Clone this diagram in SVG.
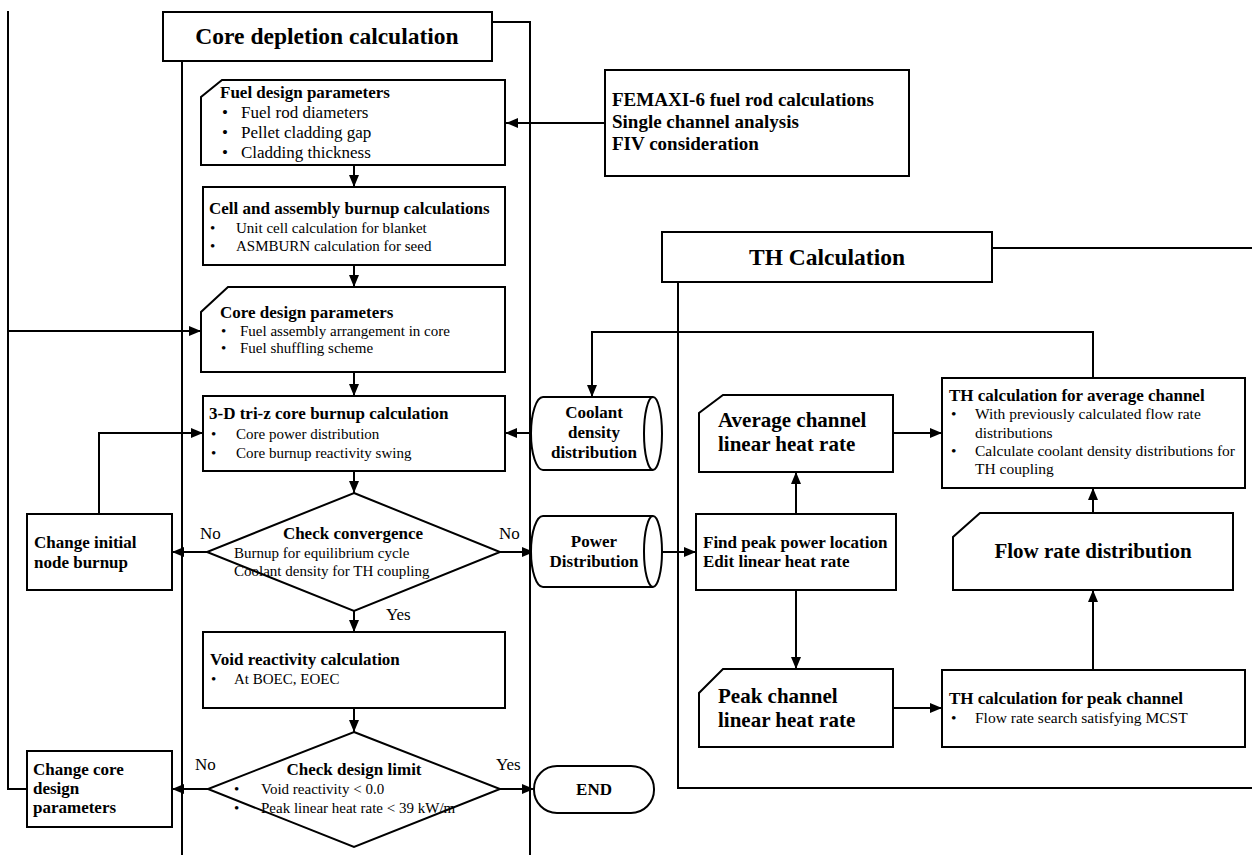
<svg xmlns="http://www.w3.org/2000/svg" width="1252" height="855" viewBox="0 0 1252 855">
<defs>
<marker id="arr" markerUnits="userSpaceOnUse" markerWidth="12" markerHeight="10" refX="12" refY="5" orient="auto">
<path d="M0,0 L12,5 L0,10 Z" fill="#000"/>
</marker>
<style>
.box{fill:#fff;stroke:#000;stroke-width:2}
.ln{fill:none;stroke:#000;stroke-width:2}
.con{fill:none;stroke:#000;stroke-width:2}
text{font-family:"Liberation Serif","Times New Roman",serif;fill:#000}
.b{font-weight:bold}
.h{font-size:23.5px;font-weight:bold}
.t17{font-size:17px}
.t15{font-size:15px}
.t155{font-size:15.5px}
.t19{font-size:19px}
.t21{font-size:21px}
.c{text-anchor:middle}
</style>
</defs>
<rect width="1252" height="855" fill="#fff"/>

<g id="lanes">
<g id="core-lane">
<path class="ln" d="M492,22 L530,22 L530,855"/>
<path class="ln" d="M182,61 L182,855"/>
<rect class="box" x="163" y="12" width="329" height="49"/>
<text class="h c" x="327" y="44">Core depletion calculation</text>
</g>
<g id="th-lane">
<path class="ln" d="M992,248 L1252,248"/>
<path class="ln" d="M678,282 L678,788 L1252,788"/>
<rect class="box" x="662" y="232" width="330" height="50"/>
<text class="h c" x="827" y="265">TH Calculation</text>
</g>
</g>

<g id="connectors">
<path class="con" d="M604,123 L506,123" marker-end="url(#arr)"/>
<path class="con" d="M354,165 L354,187" marker-end="url(#arr)"/>
<path class="con" d="M354,265 L354,287" marker-end="url(#arr)"/>
<path class="con" d="M8,11 L8,789 L27,789"/>
<path class="con" d="M8,331 L201,331" marker-end="url(#arr)"/>
<path class="con" d="M354,372 L354,396" marker-end="url(#arr)"/>
<path class="con" d="M99,514 L99,433 L203,433" marker-end="url(#arr)"/>
<path class="con" d="M534,433 L505,433" marker-end="url(#arr)"/>
<path class="con" d="M354,471 L354,493" marker-end="url(#arr)"/>
<path class="con" d="M207,552 L172,552" marker-end="url(#arr)"/>
<path class="con" d="M500,552 L534,552" marker-end="url(#arr)"/>
<path class="con" d="M354,611 L354,632" marker-end="url(#arr)"/>
<path class="con" d="M354,708 L354,732" marker-end="url(#arr)"/>
<path class="con" d="M208,789 L172,789" marker-end="url(#arr)"/>
<path class="con" d="M500,789 L534,789" marker-end="url(#arr)"/>
<path class="con" d="M662,552 L696,552" marker-end="url(#arr)"/>
<path class="con" d="M796,514 L796,472" marker-end="url(#arr)"/>
<path class="con" d="M796,590 L796,669" marker-end="url(#arr)"/>
<path class="con" d="M893,433 L942,433" marker-end="url(#arr)"/>
<path class="con" d="M893,708 L942,708" marker-end="url(#arr)"/>
<path class="con" d="M1093,670 L1093,590" marker-end="url(#arr)"/>
<path class="con" d="M1093,513 L1093,488" marker-end="url(#arr)"/>
<path class="con" d="M1093,378 L1093,332 L592,332 L592,397" marker-end="url(#arr)"/>
<text class="t17" x="200" y="539">No</text>
<text class="t17" x="499" y="539">No</text>
<text class="t17" x="386" y="620">Yes</text>
<text class="t17" x="195" y="770">No</text>
<text class="t17" x="496" y="770">Yes</text>
</g>

<g id="femaxi">
<rect class="box" x="605" y="70" width="304" height="106"/>
<text class="b t19" x="612" y="106">FEMAXI-6 fuel rod calculations</text>
<text class="b t19" x="612" y="128">Single channel analysis</text>
<text class="b t19" x="612" y="150">FIV consideration</text>
</g>

<g id="fuel-design">
<path class="box" d="M222,80 L505,80 L505,165 L201,165 L201,97 Z"/>
<text class="b t17" x="220" y="98">Fuel design parameters</text>
<text class="t17" x="222" y="118">•</text><text class="t17" x="241" y="118">Fuel rod diameters</text>
<text class="t17" x="222" y="138">•</text><text class="t17" x="241" y="138">Pellet cladding gap</text>
<text class="t17" x="222" y="158">•</text><text class="t17" x="241" y="158">Cladding thickness</text>
</g>

<g id="cell-assembly">
<rect class="box" x="203" y="187" width="302" height="78"/>
<text class="b t17" x="209" y="214">Cell and assembly burnup calculations</text>
<text class="t15" x="210" y="233">•</text><text class="t15" x="236" y="233">Unit cell calculation for blanket</text>
<text class="t15" x="210" y="251">•</text><text class="t15" x="236" y="251">ASMBURN calculation for seed</text>
</g>

<g id="core-design">
<path class="box" d="M228,287 L505,287 L505,372 L201,372 L201,312 Z"/>
<text class="b t17" x="220" y="318">Core design parameters</text>
<text class="t15" x="221" y="336">•</text><text class="t15" x="240" y="336">Fuel assembly arrangement in core</text>
<text class="t15" x="221" y="353">•</text><text class="t15" x="240" y="353">Fuel shuffling scheme</text>
</g>

<g id="tri-z">
<rect class="box" x="203" y="396" width="302" height="75"/>
<text class="b t17" x="209" y="419">3-D tri-z core burnup calculation</text>
<text class="t15" x="211" y="439">•</text><text class="t15" x="236" y="439">Core power distribution</text>
<text class="t15" x="211" y="458">•</text><text class="t15" x="236" y="458">Core burnup reactivity swing</text>
</g>

<g id="check-convergence">
<path class="box" d="M354,493 L500,552 L354,611 L207,552 Z"/>
<text class="b t17 c" x="353" y="539">Check convergence</text>
<text class="t15" x="234" y="558">Burnup for equilibrium cycle</text>
<text class="t15" x="234" y="576">Coolant density for TH coupling</text>
</g>

<g id="change-initial">
<rect class="box" x="27" y="514" width="145" height="76"/>
<text class="b t17" x="34" y="548">Change initial</text>
<text class="b t17" x="34" y="568">node burnup</text>
</g>

<g id="void-reactivity">
<rect class="box" x="203" y="632" width="302" height="76"/>
<text class="b t17" x="210" y="665">Void reactivity calculation</text>
<text class="t15" x="211" y="684">•</text><text class="t15" x="234" y="684">At BOEC, EOEC</text>
</g>

<g id="check-design">
<path class="box" d="M354,732 L500,789 L354,847 L208,789 Z"/>
<text class="b t17 c" x="354" y="775">Check design limit</text>
<text class="t15" x="234" y="794">•</text><text class="t15" x="261" y="794">Void reactivity &lt; 0.0</text>
<text class="t15" x="234" y="813">•</text><text class="t15" x="261" y="813">Peak linear heat rate &lt; 39 kW/m</text>
</g>

<g id="change-core">
<rect class="box" x="27" y="751" width="145" height="76"/>
<text class="b t17" x="33" y="775">Change core</text>
<text class="b t17" x="33" y="794">design</text>
<text class="b t17" x="33" y="813">parameters</text>
</g>

<g id="end">
<rect class="box" x="534" y="766" width="120" height="47" rx="23" ry="23"/>
<text class="b t17 c" x="594" y="795">END</text>
</g>

<g id="coolant-density">
<path class="box" d="M543,397 L653,397 A9,36.5 0 0 1 653,470 L543,470 A12,36.5 0 0 1 543,397 Z"/>
<path class="ln" d="M653,397 A9,36.5 0 0 0 653,470"/>
<text class="b t17 c" x="594" y="418">Coolant</text>
<text class="b t17 c" x="594" y="438">density</text>
<text class="b t17 c" x="594" y="458">distribution</text>
</g>

<g id="power-distribution">
<path class="box" d="M543,516 L653,516 A9,35.5 0 0 1 653,587 L543,587 A12,35.5 0 0 1 543,516 Z"/>
<path class="ln" d="M653,516 A9,35.5 0 0 0 653,587"/>
<text class="b t17 c" x="594" y="547">Power</text>
<text class="b t17 c" x="594" y="567">Distribution</text>
</g>

<g id="find-peak">
<rect class="box" x="696" y="514" width="200" height="76"/>
<text class="b t17" x="703" y="548">Find peak power location</text>
<text class="b t17" x="703" y="567">Edit linear heat rate</text>
</g>

<g id="average-channel">
<path class="box" d="M723,395 L893,395 L893,472 L699,472 L699,413 Z"/>
<text class="b t21" x="718" y="427">Average channel</text>
<text class="b t21" x="718" y="451">linear heat rate</text>
</g>

<g id="peak-channel">
<path class="box" d="M723,669 L893,669 L893,747 L699,747 L699,693 Z"/>
<text class="b t21" x="718" y="703">Peak channel</text>
<text class="b t21" x="718" y="727">linear heat rate</text>
</g>

<g id="th-average">
<rect class="box" x="942" y="378" width="303" height="110"/>
<text class="b t17" x="949" y="401">TH calculation for average channel</text>
<text class="t155" x="951" y="419">•</text><text class="t155" x="975" y="419">With previously calculated flow rate</text>
<text class="t155" x="975" y="438">distributions</text>
<text class="t155" x="951" y="456">•</text><text class="t155" x="975" y="456">Calculate coolant density distributions for</text>
<text class="t155" x="975" y="474">TH coupling</text>
</g>

<g id="flow-rate">
<path class="box" d="M980,513 L1233,513 L1233,590 L953,590 L953,537 Z"/>
<text class="b t21 c" x="1093" y="558">Flow rate distribution</text>
</g>

<g id="th-peak">
<rect class="box" x="942" y="670" width="303" height="77"/>
<text class="b t17" x="949" y="704">TH calculation for peak channel</text>
<text class="t155" x="951" y="723">•</text><text class="t155" x="975" y="723">Flow rate search satisfying MCST</text>
</g>
</svg>
